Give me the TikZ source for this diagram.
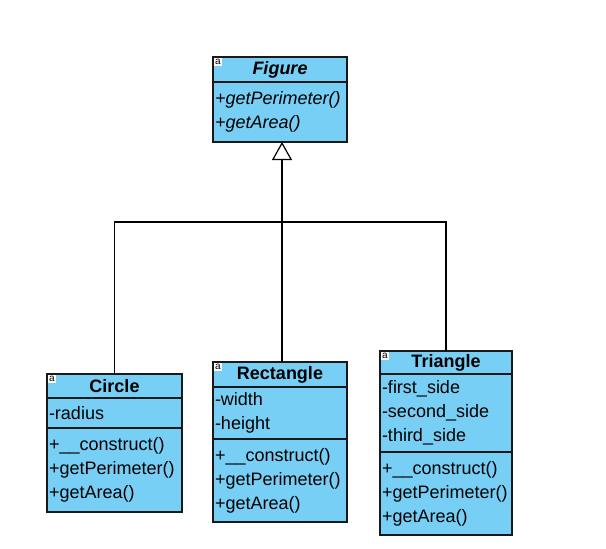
\documentclass[tikz,border=0pt]{standalone}
\usepackage{fontspec}
\setmainfont{Liberation Sans}
\usetikzlibrary{arrows.meta,positioning}
\definecolor{classfill}{RGB}{120,207,245}
\definecolor{classline}{RGB}{25,25,25}
\newcommand\umlfont{\fontsize{18}{24}\selectfont}

\begin{document}
\begin{tikzpicture}[x=1pt,y=-1pt,node distance=0pt,
  box/.style={draw=classline,fill=classfill,line width=1.3pt,outer sep=0pt,inner xsep=2pt,inner ysep=3pt},
  head/.style={box,font=\umlfont\bfseries,anchor=north west},
  body/.style={box,font=\umlfont,align=left},
  stereo/.style={fill=white,font=\fontsize{10}{10}\selectfont,inner sep=0pt,minimum width=8pt,minimum height=8.5pt,anchor=north west},
  inherit/.style={line width=1.2pt}]
\fill[white] (0,0) rectangle (606,549);
\useasboundingbox (0,0) rectangle (606,549);
% abstract parent
\node[head,font=\umlfont\bfseries\itshape,minimum width=134pt,minimum height=25pt] (figure) at (213,57) {Figure};
\node[body,font=\umlfont\itshape,text width=130pt,minimum height=60pt,below=of figure] (figure-ops) {+getPerimeter()\\+getArea()};
% subclasses
\node[head,minimum width=135pt,minimum height=24pt] (circle) at (47,374) {Circle};
\node[body,text width=131pt,minimum height=30pt,below=of circle] (circle-attr) {-radius};
\node[body,text width=131pt,minimum height=84pt,below=of circle-attr] (circle-ops) {+\_\_construct()\\+getPerimeter()\\+getArea()};
\node[head,minimum width=134pt,minimum height=25pt] (rectangle) at (213,362) {Rectangle};
\node[body,text width=130pt,minimum height=52pt,below=of rectangle] (rectangle-attr) {-width\\-height};
\node[body,text width=130pt,minimum height=83pt,below=of rectangle-attr] (rectangle-ops) {+\_\_construct()\\+getPerimeter()\\+getArea()};
\node[head,minimum width=132pt,minimum height=23pt] (triangle) at (380,351) {Triangle};
\node[body,text width=128pt,minimum height=78pt,below=of triangle] (triangle-attr) {-first\_side\\-second\_side\\-third\_side};
\node[body,text width=128pt,minimum height=83pt,below=of triangle-attr] (triangle-ops) {+\_\_construct()\\+getPerimeter()\\+getArea()};
% small stereotype marks
\node[stereo] (figure-a) at ([shift={(0.7pt,-0.7pt)}]figure.north west) {a};
\node[stereo] (circle-a) at ([shift={(0.7pt,-0.7pt)}]circle.north west) {a};
\node[stereo] (rectangle-a) at ([shift={(0.7pt,-0.7pt)}]rectangle.north west) {a};
\node[stereo] (triangle-a) at ([shift={(0.7pt,-0.7pt)}]triangle.north west) {a};
% generalization
\coordinate (join) at (282,222);
\draw[inherit] (circle.north) |- (join) -| (triangle.north);
\draw[inherit] (join) -- (join |- rectangle.north);
\draw[inherit,line width=2.4pt,-{Triangle[open,length=18pt,width=20pt,line width=1.2pt]}] (join) -- (join |- figure-ops.south);
\end{tikzpicture}
\end{document}
